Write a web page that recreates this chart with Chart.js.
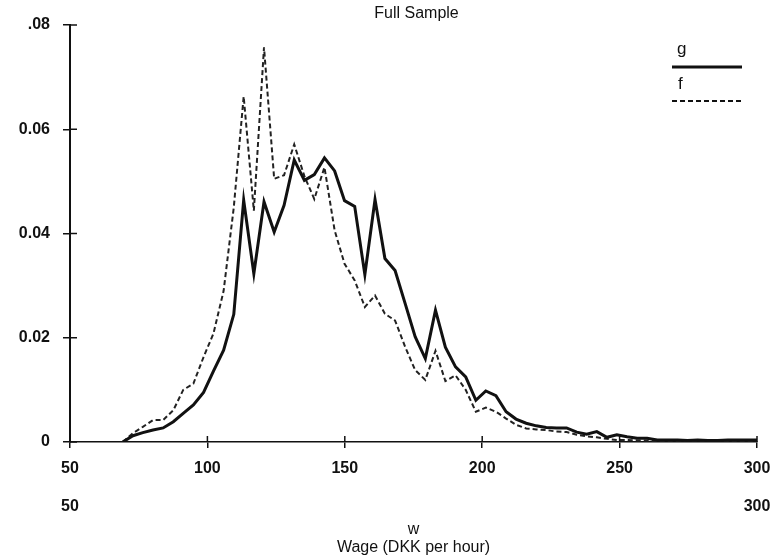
<!DOCTYPE html>
<html>
<head>
<meta charset="utf-8">
<script src="https://cdn.jsdelivr.net/npm/chart.js@4.4.0/dist/chart.umd.min.js"></script>
<style>
  html, body { margin: 0; padding: 0; background: #fff; }
  #wrap { width: 779px; height: 556px; }
</style>
</head>
<body>
<div id="wrap"><canvas id="myChart" width="779" height="556"></canvas></div>
<script>
// du lieu doc tu hinh
const wages = [69.2, 72.9, 76.5, 80.2, 83.9, 87.6, 91.2, 94.9, 98.6, 102.2,
  105.9, 109.6, 113.2, 116.9, 120.6, 124.3, 127.9, 131.6, 135.3, 138.9,
  142.6, 146.3, 149.9, 153.6, 157.3, 161.0, 164.6, 168.3, 172.0, 175.6,
  179.3, 183.0, 186.6, 190.3, 194.0, 197.7, 201.3, 205.0, 208.7, 212.3,
  216.0, 219.7, 223.3, 227.0, 230.7, 234.4, 238.0, 241.7, 245.4, 249.0,
  252.7, 256.4, 260.0, 263.7, 267.4, 271.1, 274.7, 278.4, 282.1, 285.7,
  289.4, 293.1, 296.7, 300.0];

const gValues = [0, 0.0012, 0.0018, 0.0023, 0.0027, 0.0039, 0.0055, 0.0071, 0.0095, 0.0136,
  0.0176, 0.0245, 0.0464, 0.0323, 0.0461, 0.0403, 0.0454, 0.0541, 0.0502, 0.0513,
  0.0545, 0.0520, 0.0463, 0.0452, 0.0321, 0.0465, 0.0352, 0.0329, 0.0265, 0.0202,
  0.0160, 0.0253, 0.0182, 0.0144, 0.0125, 0.0080, 0.0098, 0.0089, 0.0058, 0.0044,
  0.0036, 0.0031, 0.0028, 0.0027, 0.0027, 0.0019, 0.0015, 0.0020, 0.0009, 0.0014,
  0.0010, 0.0007, 0.0007, 0.0004, 0.0004, 0.0004, 0.0003, 0.0004, 0.0003, 0.0003,
  0.0004, 0.0004, 0.0004, 0.0004];

const fValues = [0, 0.0017, 0.0029, 0.0042, 0.0042, 0.0061, 0.0100, 0.0112, 0.0163, 0.0208,
  0.0290, 0.0450, 0.0663, 0.0444, 0.0757, 0.0505, 0.0512, 0.0571, 0.0510, 0.0466,
  0.0527, 0.0406, 0.0342, 0.0310, 0.0259, 0.0281, 0.0246, 0.0233, 0.0182, 0.0138,
  0.0119, 0.0175, 0.0117, 0.0128, 0.0100, 0.0058, 0.0066, 0.0058, 0.0045, 0.0033,
  0.0026, 0.0024, 0.0023, 0.0020, 0.0019, 0.0014, 0.0011, 0.0009, 0.0006, 0.0004,
  0.0004, 0.0003, 0.0003, 0.0002, 0.0002, 0.0002, 0.0002, 0.0002, 0.0002, 0.0002,
  0.0002, 0.0002, 0.0002, 0.0002];

const xTicks = [50, 100, 150, 200, 250, 300];
const xTicks2 = [50, 300];
const yTicks = [0, 0.02, 0.04, 0.06, 0.08];
const yTickLabels = ['0', '0.02', '0.04', '0.06', '.08'];
const chartTitle = 'Full Sample';
const xTitle = ['w', 'Wage (DKK per hour)'];

const FONT = "'Liberation Sans', Arial, sans-serif";

// ve tieu de, chu thich va vach chia ben trong
const extras = {
  id: 'extras',
  afterDraw(chart) {
    const ctx = chart.ctx;
    const area = chart.chartArea;
    const sx = chart.scales.x;
    const sy = chart.scales.y;
    ctx.save();
    ctx.strokeStyle = '#111';
    ctx.lineWidth = 1.5;
    // vach chia phia trong truc
    xTicks.forEach(v => {
      const px = sx.getPixelForValue(v);
      ctx.beginPath();
      ctx.moveTo(px, area.bottom);
      ctx.lineTo(px, area.bottom - 6);
      ctx.stroke();
    });
    yTicks.forEach(v => {
      const py = sy.getPixelForValue(v);
      ctx.beginPath();
      ctx.moveTo(area.left, py);
      ctx.lineTo(area.left + 7, py);
      ctx.stroke();
    });
    // tieu de
    ctx.fillStyle = '#111';
    ctx.font = '16px ' + FONT;
    ctx.textAlign = 'center';
    ctx.textBaseline = 'middle';
    ctx.fillText(chartTitle, (area.left + area.right) / 2 + 3, 14);
    // chu thich
    ctx.font = '17px ' + FONT;
    ctx.textAlign = 'left';
    ctx.fillText('g', 677, 49);
    ctx.fillText('f', 678, 84);
    ctx.lineWidth = 3;
    ctx.beginPath();
    ctx.moveTo(672, 67);
    ctx.lineTo(742, 67);
    ctx.stroke();
    ctx.lineWidth = 2;
    ctx.setLineDash([5, 3]);
    ctx.beginPath();
    ctx.moveTo(672, 101);
    ctx.lineTo(742, 101);
    ctx.stroke();
    ctx.restore();
  }
};

const data = {
  datasets: [{
    label: 'g',
    data: wages.map((w, i) => ({ x: w, y: gValues[i] })),
    borderColor: '#111',
    borderWidth: 3,
    pointRadius: 0,
    tension: 0
  }, {
    label: 'f',
    data: wages.map((w, i) => ({ x: w, y: fValues[i] })),
    borderColor: '#222',
    borderWidth: 2,
    borderDash: [5, 3],
    pointRadius: 0,
    tension: 0
  }]
};

const config = {
  type: 'line',
  data: data,
  options: {
    responsive: false,
    animation: false,
    layout: { padding: { top: 25, right: 22, left: 0, bottom: 0 } },
    plugins: {
      legend: { display: false },
      title: { display: false },
      tooltip: { enabled: false }
    },
    scales: {
      x: {
        type: 'linear',
        position: 'bottom',
        min: 50,
        max: 300,
        afterBuildTicks: s => { s.ticks = xTicks.map(v => ({ value: v })); },
        afterFit: s => { s.height = 40; s.paddingLeft = 0; s.paddingRight = 0; },
        ticks: {
          color: '#111',
          padding: 11,
          maxRotation: 0,
          font: { family: FONT, size: 16, weight: 'bold' }
        },
        grid: { drawOnChartArea: false, tickLength: 6, color: '#111', lineWidth: 1.5 },
        border: { color: '#111', width: 1.5 }
      },
      x2: {
        type: 'linear',
        position: 'bottom',
        min: 50,
        max: 300,
        afterBuildTicks: s => { s.ticks = xTicks2.map(v => ({ value: v })); },
        afterFit: s => { s.height = 74; s.paddingLeft = 0; s.paddingRight = 0; },
        ticks: {
          color: '#111',
          padding: 15,
          maxRotation: 0,
          font: { family: FONT, size: 16, weight: 'bold' }
        },
        grid: { display: false, drawTicks: false },
        border: { display: false },
        title: {
          display: true,
          text: xTitle,
          color: '#111',
          padding: { top: 6, bottom: 0 },
          font: { family: FONT, size: 16, lineHeight: 1.08 }
        }
      },
      y: {
        type: 'linear',
        position: 'left',
        min: 0,
        max: 0.08,
        afterBuildTicks: s => { s.ticks = yTicks.map(v => ({ value: v })); },
        afterFit: s => { s.width = 70; },
        ticks: {
          color: '#111',
          padding: 13,
          callback: (v) => yTickLabels[yTicks.indexOf(v)],
          font: { family: FONT, size: 16, weight: 'bold' }
        },
        grid: { drawOnChartArea: false, tickLength: 7, color: '#111', lineWidth: 1.5 },
        border: { color: '#111', width: 2 }
      }
    }
  },
  plugins: [extras]
};

const ctx = document.getElementById('myChart').getContext('2d');
let myChart = new Chart(ctx, config);
</script>
</body>
</html>
